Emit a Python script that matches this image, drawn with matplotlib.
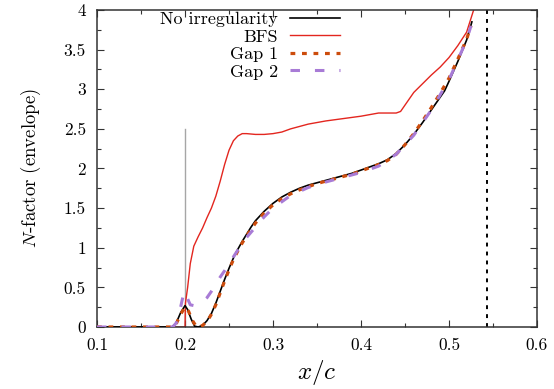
import matplotlib
matplotlib.use("Agg")
import matplotlib.pyplot as plt
from matplotlib.ticker import MultipleLocator, FuncFormatter

plt.rcParams['font.family'] = 'serif'
plt.rcParams['font.serif'] = ['cmr10']
plt.rcParams['mathtext.fontset'] = 'cm'
plt.rcParams['axes.formatter.use_mathtext'] = True

# ---- data ----
x_none = [0.10, 0.185, 0.19, 0.195, 0.2, 0.203, 0.207, 0.211, 0.215, 0.22, 0.225, 0.23, 0.235,
          0.24, 0.245, 0.25, 0.255, 0.26, 0.265, 0.27, 0.275, 0.28, 0.29, 0.30, 0.31, 0.32,
          0.33, 0.34, 0.35, 0.36, 0.37, 0.38, 0.39, 0.40, 0.41, 0.42, 0.43, 0.44, 0.45,
          0.46, 0.47, 0.48, 0.49, 0.495, 0.50, 0.51, 0.52, 0.526]
n_none = [0, 0, 0.05, 0.18, 0.27, 0.22, 0.1, 0.01, 0.0, 0.02, 0.08, 0.17, 0.3,
          0.45, 0.6, 0.74, 0.87, 0.98, 1.08, 1.17, 1.26, 1.34, 1.46, 1.56, 1.64, 1.70,
          1.75, 1.79, 1.82, 1.85, 1.88, 1.91, 1.94, 1.98, 2.02, 2.06, 2.11, 2.19, 2.30,
          2.43, 2.58, 2.74, 2.9, 2.98, 3.1, 3.35, 3.62, 3.85]

x_bfs = [0.10, 0.199, 0.2, 0.2005, 0.203, 0.206, 0.21, 0.215, 0.22, 0.225, 0.23, 0.235,
         0.24, 0.245, 0.25, 0.255, 0.26, 0.265, 0.27, 0.28, 0.29, 0.30, 0.31, 0.32, 0.34,
         0.36, 0.38, 0.40, 0.42, 0.435, 0.44, 0.445, 0.45, 0.46, 0.47, 0.48, 0.49, 0.50,
         0.51, 0.52, 0.528]
n_bfs = [0, 0, 0, 0.3, 0.5, 0.8, 1.02, 1.14, 1.25, 1.38, 1.5, 1.65,
         1.84, 2.05, 2.23, 2.35, 2.41, 2.44, 2.44, 2.43, 2.43, 2.44, 2.46, 2.5, 2.56,
         2.6, 2.63, 2.66, 2.7, 2.7, 2.7, 2.72, 2.8, 2.96, 3.07, 3.18, 3.28, 3.4,
         3.55, 3.72, 4.0]

x_gap1 = [0.10, 0.186, 0.19, 0.195, 0.2, 0.204, 0.208, 0.212, 0.216, 0.22, 0.225, 0.23,
          0.235, 0.24, 0.245, 0.25, 0.255, 0.26, 0.265, 0.27, 0.275, 0.28, 0.29, 0.30,
          0.31, 0.32, 0.33, 0.34, 0.35, 0.36, 0.37, 0.38, 0.39, 0.40, 0.41, 0.42, 0.43,
          0.44, 0.45, 0.46, 0.47, 0.48, 0.49, 0.50, 0.51, 0.52, 0.525]
n_gap1 = [0, 0, 0.04, 0.16, 0.25, 0.2, 0.09, 0.02, 0.0, 0.02, 0.07, 0.16,
          0.28, 0.43, 0.58, 0.72, 0.85, 0.96, 1.06, 1.15, 1.23, 1.31, 1.44, 1.54,
          1.62, 1.68, 1.73, 1.77, 1.81, 1.84, 1.87, 1.9, 1.93, 1.97, 2.01, 2.05, 2.1,
          2.18, 2.3, 2.44, 2.6, 2.77, 2.95, 3.14, 3.38, 3.63, 3.8]

x_gap2 = [0.10, 0.186, 0.19, 0.195, 0.199, 0.202, 0.206, 0.21, 0.215, 0.22, 0.225, 0.23,
          0.235, 0.24, 0.245, 0.25, 0.26, 0.27, 0.28, 0.29, 0.30, 0.32, 0.34, 0.36, 0.38,
          0.40, 0.42, 0.44, 0.46, 0.48, 0.50, 0.51, 0.52, 0.525]
n_gap2 = [0, 0, 0.05, 0.25, 0.45, 0.38, 0.28, 0.27, 0.29, 0.32, 0.37, 0.45,
          0.54, 0.63, 0.71, 0.8, 0.97, 1.13, 1.26, 1.39, 1.5, 1.66, 1.76, 1.83, 1.89,
          1.95, 2.03, 2.18, 2.42, 2.74, 3.12, 3.37, 3.62, 3.8]

labels = ["No irregularity", "BFS", "Gap 1", "Gap 2"]
step_x = 0.2
step_top = 2.5
limit_x = 0.543

# ---- figure ----
fig = plt.figure(figsize=(5.54, 3.89), dpi=100)
ax = fig.add_axes([0.1751, 0.1594, 0.7942, 0.8149])

ax.plot([step_x, step_x], [0, step_top], color='#a6a6a6', lw=1.0, zorder=1)
ax.axvline(limit_x, color='black', lw=1.4, linestyle=(0, (2.0, 2.6)), zorder=1)

ax.plot(x_none, n_none, color='black', lw=1.2, label=labels[0], zorder=3)
ax.plot(x_bfs, n_bfs, color='#e3261f', lw=1.0, label=labels[1], zorder=2)
ax.plot(x_gap1, n_gap1, color='#cc4c0c', lw=2.3, linestyle=(0, (1.5, 2.1)),
        dash_capstyle='butt', label=labels[2], zorder=4)
ax.plot(x_gap2, n_gap2, color='#a87bd6', lw=2.2, linestyle=(0, (3.1, 4.9)),
        dash_capstyle='butt', label=labels[3], zorder=5)

ax.set_xlim(0.1, 0.6)
ax.set_ylim(0, 4)
ax.xaxis.set_major_locator(MultipleLocator(0.1))
ax.xaxis.set_minor_locator(MultipleLocator(0.05))
ax.yaxis.set_major_locator(MultipleLocator(0.5))
ax.yaxis.set_minor_locator(MultipleLocator(0.25))
ax.xaxis.set_major_formatter(FuncFormatter(lambda v, p: f"{v:.1f}"))
ax.yaxis.set_major_formatter(FuncFormatter(lambda v, p: f"{v:g}"))

ax.tick_params(which='both', direction='in', top=True, right=True, labelsize=12.5,
               width=0.8, color='#333333')
ax.tick_params(which='major', length=5, pad=8)
ax.tick_params(which='minor', length=2.7)
for s in ax.spines.values():
    s.set_linewidth(1.1)
    s.set_color('#333333')

ax.set_xlabel(r'$x/c$', fontsize=18, labelpad=3)
ax.set_ylabel(r'$N$-factor (envelope)', fontsize=13.5, labelpad=15)

ax.legend(loc='upper right', bbox_to_anchor=(0.553, 0.995), frameon=False,
          markerfirst=False, handlelength=2.8, handletextpad=0.65, labelspacing=0.1,
          borderpad=0, borderaxespad=0, fontsize=13)

fig.savefig('out.png', dpi=100)
